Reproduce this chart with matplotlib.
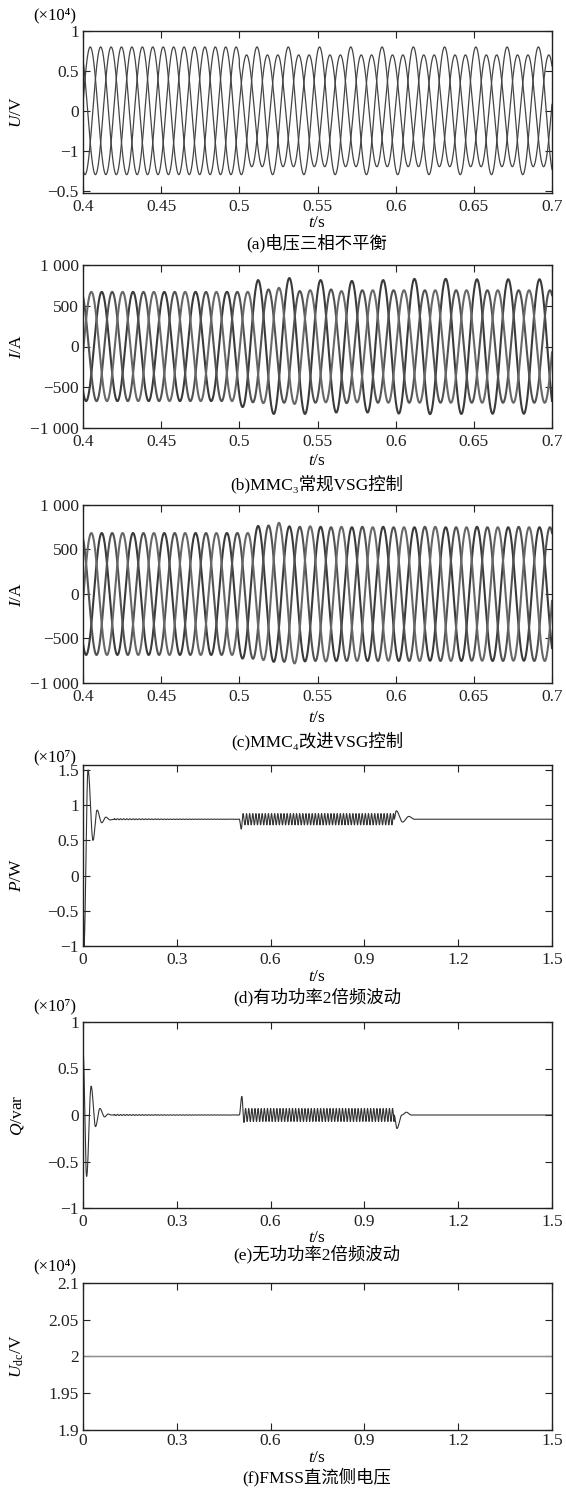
import matplotlib
matplotlib.use("Agg")
import matplotlib.pyplot as plt
import numpy as np

# ---------------- data ----------------
F_GRID = 50.0          # Hz, fundamental
F_OSC = 100.0          # Hz, double-frequency power ripple
T_FAULT = 0.5          # s, unbalance starts
T_CLEAR = 1.0          # s, unbalance ends (panels d, e)

# (a) three-phase voltage (axis units), peak amplitudes per phase
U_AMP_BEFORE = [0.80, 0.80, 0.80]
U_AMP_AFTER = [0.80, 0.70, 0.70]
U_PEAK_A = 0.0113      # s, phase-a peak time modulo one period

# (b) MMC3 conventional VSG, per-cycle peak currents (A), cycles 0.40 ... 0.68
I3_A = [670, 670, 670, 670, 670, 815, 840, 815, 805, 815, 830, 830, 825, 825, 825]
I3_B = [670, 670, 670, 670, 670, 700, 680, 700, 690, 690, 690, 690, 690, 690, 690]
I3_C = [670, 670, 670, 670, 670, 720, 690, 680, 690, 690, 690, 690, 690, 690, 690]
I3_PEAK_A = 0.0120

# (c) MMC4 improved VSG, per-cycle peak currents (A)
I4_A = [685, 685, 685, 685, 685, 765, 760, 755, 750, 755, 750, 750, 755, 750, 750]
I4_B = [685, 685, 685, 685, 685, 770, 755, 750, 755, 750, 755, 750, 750, 755, 750]
I4_C = [685, 685, 685, 685, 685, 800, 760, 755, 750, 750, 755, 750, 750, 750, 755]
I4_PEAK_A = 0.0120

# (d) active power (x1e7 W): turning points of the transients
P_BASE = 0.80
P_START_T = [0.0, 0.003, 0.016, 0.032, 0.045, 0.060, 0.073, 0.086, 0.10]
P_START_V = [0.0, -1.00, 1.50, 0.50, 0.93, 0.75, 0.83, 0.79, 0.80]
P_FAULT_T = [0.500, 0.506, 0.512, 0.518]
P_FAULT_V = [0.80, 0.66, 0.88, 0.72]
P_CLEAR_T = [0.995, 1.002, 1.022, 1.042, 1.060]
P_CLEAR_V = [0.80, 0.92, 0.76, 0.84, 0.80]
P_OSC_AMP = 0.08
P_RIPPLE = 0.008

# (e) reactive power (x1e7 var)
Q_BASE = 0.0
Q_START_T = [0.0, 0.0115, 0.026, 0.040, 0.054, 0.069, 0.080, 0.090]
Q_START_V = [0.70, -0.66, 0.31, -0.125, 0.07, -0.02, 0.01, 0.0]
Q_FAULT_T = [0.500, 0.508, 0.515]
Q_FAULT_V = [0.0, 0.20, -0.08]
Q_CLEAR_T = [0.995, 1.004, 1.020, 1.034, 1.050]
Q_CLEAR_V = [0.0, -0.145, 0.0, 0.03, 0.0]
Q_OSC_AMP = 0.07
Q_RIPPLE = 0.006

# (f) FMSS dc-side voltage (x1e4 V)
UDC = 2.0

X_TICKS_AC = [0.4, 0.45, 0.5, 0.55, 0.6, 0.65, 0.7]
X_LABELS_AC = ["0.4", "0.45", "0.5", "0.55", "0.6", "0.65", "0.7"]
X_TICKS_PW = [0, 0.3, 0.6, 0.9, 1.2, 1.5]
X_LABELS_PW = ["0", "0.3", "0.6", "0.9", "1.2", "1.5"]

CAPTIONS = ["(a)电压三相不平衡", "(b)MMC₃常规VSG控制", "(c)MMC₄改进VSG控制",
            "(d)有功功率2倍频波动", "(e)无功功率2倍频波动", "(f)FMSS直流侧电压"]

# ---------------- style ----------------
plt.rcParams['font.family'] = ['Liberation Serif', 'Noto Sans CJK SC', 'DejaVu Serif']
plt.rcParams['mathtext.fontset'] = 'custom'
plt.rcParams['mathtext.rm'] = 'Liberation Serif'
plt.rcParams['mathtext.it'] = 'Liberation Serif:italic'
plt.rcParams['axes.linewidth'] = 1.0

W, H = 566, 1489
FS = 12.5
fig = plt.figure(figsize=(W / 100, H / 100), dpi=100)


def px(x, y):
    return x / W, 1 - y / H


def make_axes(left, top, right, bottom, xpad=4):
    ax = fig.add_axes([left / W, 1 - bottom / H, (right - left) / W, (bottom - top) / H])
    ax.tick_params(direction='in', top=True, right=True, length=5, width=0.8,
                   labelsize=FS, colors='#222222')
    ax.tick_params(axis='x', pad=xpad)
    ax.tick_params(axis='y', pad=3)
    for s in ax.spines.values():
        s.set_color('#222222')
    return ax


def chain(tk, vk, t):
    # smooth half-cosine segments between the read turning points
    out = np.full(t.shape, np.nan)
    for i in range(len(tk) - 1):
        m = (t >= tk[i]) & (t <= tk[i + 1])
        s = (t[m] - tk[i]) / (tk[i + 1] - tk[i])
        out[m] = vk[i] + (vk[i + 1] - vk[i]) * (1 - np.cos(np.pi * s)) / 2
    return out


def three_phase(t, amps, t_peak):
    curves = []
    for k, amp in enumerate(amps):
        tp = t_peak + k / (3 * F_GRID)
        knots = 0.4 + tp + np.arange(len(amp)) / F_GRID
        env = np.interp(t, knots, amp)
        curves.append(env * np.cos(2 * np.pi * F_GRID * (t - tp)))
    return curves


def power(t, base, st, sv, ft, fv, ct, cv, osc_amp, ripple):
    y = np.full(t.shape, base)
    y = y + ripple * np.exp(-(t - 0.1) / 0.25) * np.cos(2 * np.pi * F_OSC * t) * ((t > 0.1) & (t < T_FAULT))
    m = (t > ft[-1]) & (t < ct[0])
    y[m] = base - osc_amp * np.cos(2 * np.pi * F_OSC * (t[m] - ft[-1]))
    for tk, vk in ((st, sv), (ft, fv), (ct, cv)):
        seg = chain(tk, vk, t)
        ok = ~np.isnan(seg)
        y[ok] = seg[ok]
    return y


def labels(ylab, cap, y_ylab, y_t, y_cap, mult=None, y_mult=None):
    fig.text(*px(17, y_ylab), ylab, rotation=90, fontsize=FS, ha='center', va='center')
    fig.text(*px(317, y_t), "$t$/s", fontsize=FS, ha='center', va='center')
    fig.text(*px(317, y_cap), cap, fontsize=FS, ha='center', va='center')
    if mult:
        fig.text(*px(55, y_mult), mult, fontsize=FS - 0.5, ha='center', va='center')


# ---------------- (a) ----------------
ta = np.linspace(0.4, 0.7, 6001)
ax = make_axes(83, 31, 552, 193)
for k in range(3):
    amp = np.where(ta < T_FAULT, U_AMP_BEFORE[k], U_AMP_AFTER[k])
    tp = U_PEAK_A + k / (3 * F_GRID)
    ax.plot(ta, amp * np.cos(2 * np.pi * F_GRID * (ta - tp)), color='#444444', lw=0.9)
ax.set_xlim(0.4, 0.7)
ax.set_ylim(-1.03, 1.0)
ax.set_yticks([-1, -0.5, 0, 0.5, 1])
ax.set_yticklabels(["−0.5", "−1", "0", "0.5", "1"])
ax.set_xticks(X_TICKS_AC)
ax.set_xticklabels(X_LABELS_AC)
labels("$U$/V", CAPTIONS[0], 112, 223, 243, "(×10⁴)", 15)

# ---------------- (b), (c) ----------------
cols = ('#3a3a3a', '#525252', '#686868')
for amps, tpk, box, ylab_y, yt, yc, cap in (
        ((I3_A, I3_B, I3_C), I3_PEAK_A, (83, 265, 552, 428), 346, 461, 484, CAPTIONS[1]),
        ((I4_A, I4_B, I4_C), I4_PEAK_A, (83, 505, 552, 683), 594, 718, 741, CAPTIONS[2])):
    ax = make_axes(*box)
    for c, col in zip(three_phase(ta, amps, tpk), cols):
        ax.plot(ta, c, color=col, lw=1.5)
    ax.set_xlim(0.4, 0.7)
    ax.set_ylim(-1000, 1000)
    ax.set_yticks([-1000, -500, 0, 500, 1000])
    ax.set_yticklabels(["−1 000", "−500", "0", "500", "1 000"])
    ax.set_xticks(X_TICKS_AC)
    ax.set_xticklabels(X_LABELS_AC)
    labels("$I$/A", cap, ylab_y, yt, yc)

# ---------------- (d), (e) ----------------
tp_ = np.linspace(0, 1.5, 30001)
P = power(tp_, P_BASE, P_START_T, P_START_V, P_FAULT_T, P_FAULT_V,
          P_CLEAR_T, P_CLEAR_V, P_OSC_AMP, P_RIPPLE)
Q = power(tp_, Q_BASE, Q_START_T, Q_START_V, Q_FAULT_T, Q_FAULT_V,
          Q_CLEAR_T, Q_CLEAR_V, Q_OSC_AMP, Q_RIPPLE)

ax = make_axes(83, 765, 552, 946)
ax.plot(tp_, P, color='#333333', lw=0.8)
ax.set_xlim(0, 1.5)
ax.set_ylim(-1, 1.57)
ax.set_yticks([-1, -0.5, 0, 0.5, 1, 1.5])
ax.set_yticklabels(["−1", "−0.5", "0", "0.5", "1", "1.5"])
ax.set_xticks(X_TICKS_PW)
ax.set_xticklabels(X_LABELS_PW)
labels("$P$/W", CAPTIONS[3], 875, 977, 997, "(×10⁷)", 757)

ax = make_axes(83, 1022, 552, 1208)
ax.plot(tp_, Q, color='#333333', lw=0.8)
ax.set_xlim(0, 1.5)
ax.set_ylim(-1, 1)
ax.set_yticks([-1, -0.5, 0, 0.5, 1])
ax.set_yticklabels(["−1", "−0.5", "0", "0.5", "1"])
ax.set_xticks(X_TICKS_PW)
ax.set_xticklabels(X_LABELS_PW)
labels("$Q$/var", CAPTIONS[4], 1115, 1238, 1254, "(×10⁷)", 1006)

# ---------------- (f) ----------------
ax = make_axes(83, 1283, 552, 1430, xpad=2)
ax.plot(tp_, np.full(tp_.shape, UDC), color='#8f8f8f', lw=1.1)
ax.set_xlim(0, 1.5)
ax.set_ylim(1.9, 2.1)
ax.set_yticks([1.9, 1.95, 2.0, 2.05, 2.1])
ax.set_yticklabels(["1.9", "1.95", "2", "2.05", "2.1"])
ax.set_xticks(X_TICKS_PW)
ax.set_xticklabels(X_LABELS_PW)
labels("$U_{\\mathrm{dc}}$/V", CAPTIONS[5], 1356, 1458, 1477, "(×10⁴)", 1266)

fig.savefig("out.png", dpi=100)
